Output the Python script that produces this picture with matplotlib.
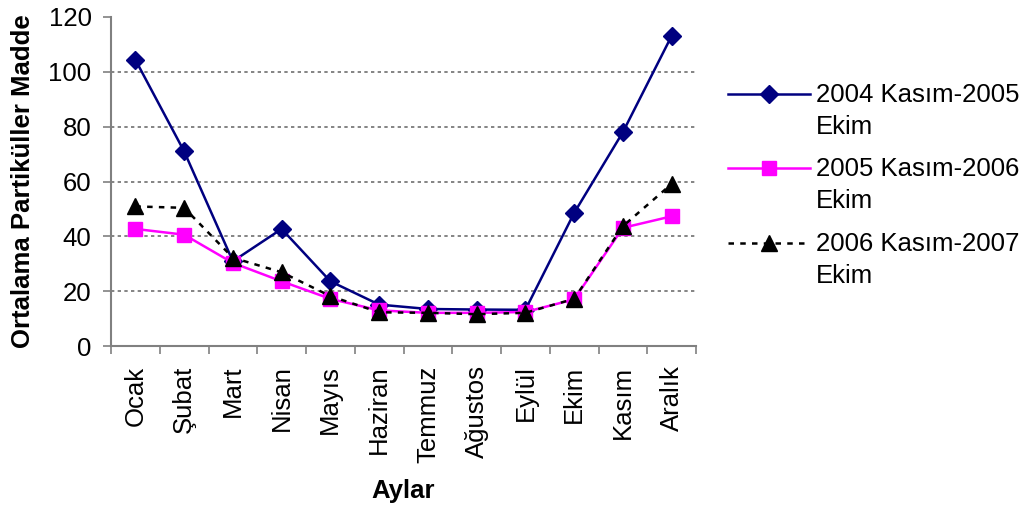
import numpy as np
from matplotlib import pyplot as plt
from matplotlib.lines import Line2D

plt.rcParams['font.family'] = ['Liberation Sans', 'DejaVu Sans']

# aylar
aylar = ['Ocak', 'Şubat', 'Mart', 'Nisan', 'Mayıs', 'Haziran', 'Temmuz',
         'Ağustos', 'Eylül', 'Ekim', 'Kasım', 'Aralık']

# aylik ortalama partikuller madde
pm_2004_2005 = [104.4, 71.0, 30.9, 42.7, 23.6, 15.1, 13.5, 13.3, 13.2, 48.5, 78.0, 113.1]
pm_2005_2006 = [42.7, 40.6, 30.3, 23.6, 17.2, 13.0, 12.1, 12.1, 12.4, 17.0, 43.1, 47.3]
pm_2006_2007 = [50.9, 50.4, 32.2, 26.9, 18.2, 12.3, 12.1, 11.6, 12.1, 17.2, 43.7, 59.1]

etiketler = ['2004 Kasım-2005\nEkim', '2005 Kasım-2006\nEkim', '2006 Kasım-2007\nEkim']
y_ticks = [0, 20, 40, 60, 80, 100, 120]

FS = 18.5

seriler = [
    dict(y=pm_2004_2005, color='#000080', marker='D', ms=9, ls='-'),
    dict(y=pm_2005_2006, color='#FF00FF', marker='s', ms=9.5, ls='-'),
    dict(y=pm_2006_2007, color='black', marker='^', ms=11, ls=(0, (2.2, 2.5))),
]

fig = plt.figure(figsize=(10.24, 5.12), dpi=100)
ax = fig.add_axes([111/1024, 1 - 346/512, (696-111)/1024, (346-17)/512])

x = np.arange(len(aylar))
for s in seriler:
    ax.plot(x, s['y'], color=s['color'], marker=s['marker'], markersize=s['ms'],
            linestyle=s['ls'], linewidth=1.8, zorder=3)

# yatay izgara (dotted)
for v in y_ticks[1:-1]:
    ax.axhline(v, color='#707070', linestyle=(0, (2, 2)), linewidth=1.2, zorder=1)

ax.set_xlim(-0.5, len(aylar) - 0.5)
ax.set_ylim(0, 120)
ax.set_yticks(y_ticks)
ax.set_xticks(x)
ax.set_xticklabels(aylar, rotation=90)
ax.set_xticks(np.arange(-0.5, len(aylar), 1.0), minor=True)
ax.tick_params(axis='x', which='major', length=0, pad=14, labelsize=FS)
ax.tick_params(axis='x', which='minor', length=6, width=1.2, color='#808080', direction='out')
ax.tick_params(axis='y', which='major', length=6, width=1.2, color='#808080',
               direction='out', labelsize=FS, pad=8)

for sp in ['top', 'right']:
    ax.spines[sp].set_visible(False)
for sp in ['left', 'bottom']:
    ax.spines[sp].set_color('#808080')
    ax.spines[sp].set_linewidth(1.5)

ax.set_ylabel('Ortalama Partiküller Madde', fontsize=FS, fontweight='bold', labelpad=10)
ax.set_xlabel('Aylar', fontsize=FS, fontweight='bold', labelpad=12)

# lejant (elle)
leg_y = [94, 168, 243]
for s, lab, yy in zip(seriler, etiketler, leg_y):
    yf = 1 - yy/512
    fig.add_artist(Line2D([728/1024, 769/1024, 810/1024], [yf, yf, yf],
                          color=s['color'], linestyle=s['ls'], linewidth=1.8,
                          marker=s['marker'], markersize=s['ms'],
                          markevery=[1], transform=fig.transFigure))
    fig.text(816/1024, 1 - (yy - 11)/512, lab, fontsize=FS, va='top', ha='left',
             linespacing=1.4)

plt.savefig('out.png', dpi=100)
